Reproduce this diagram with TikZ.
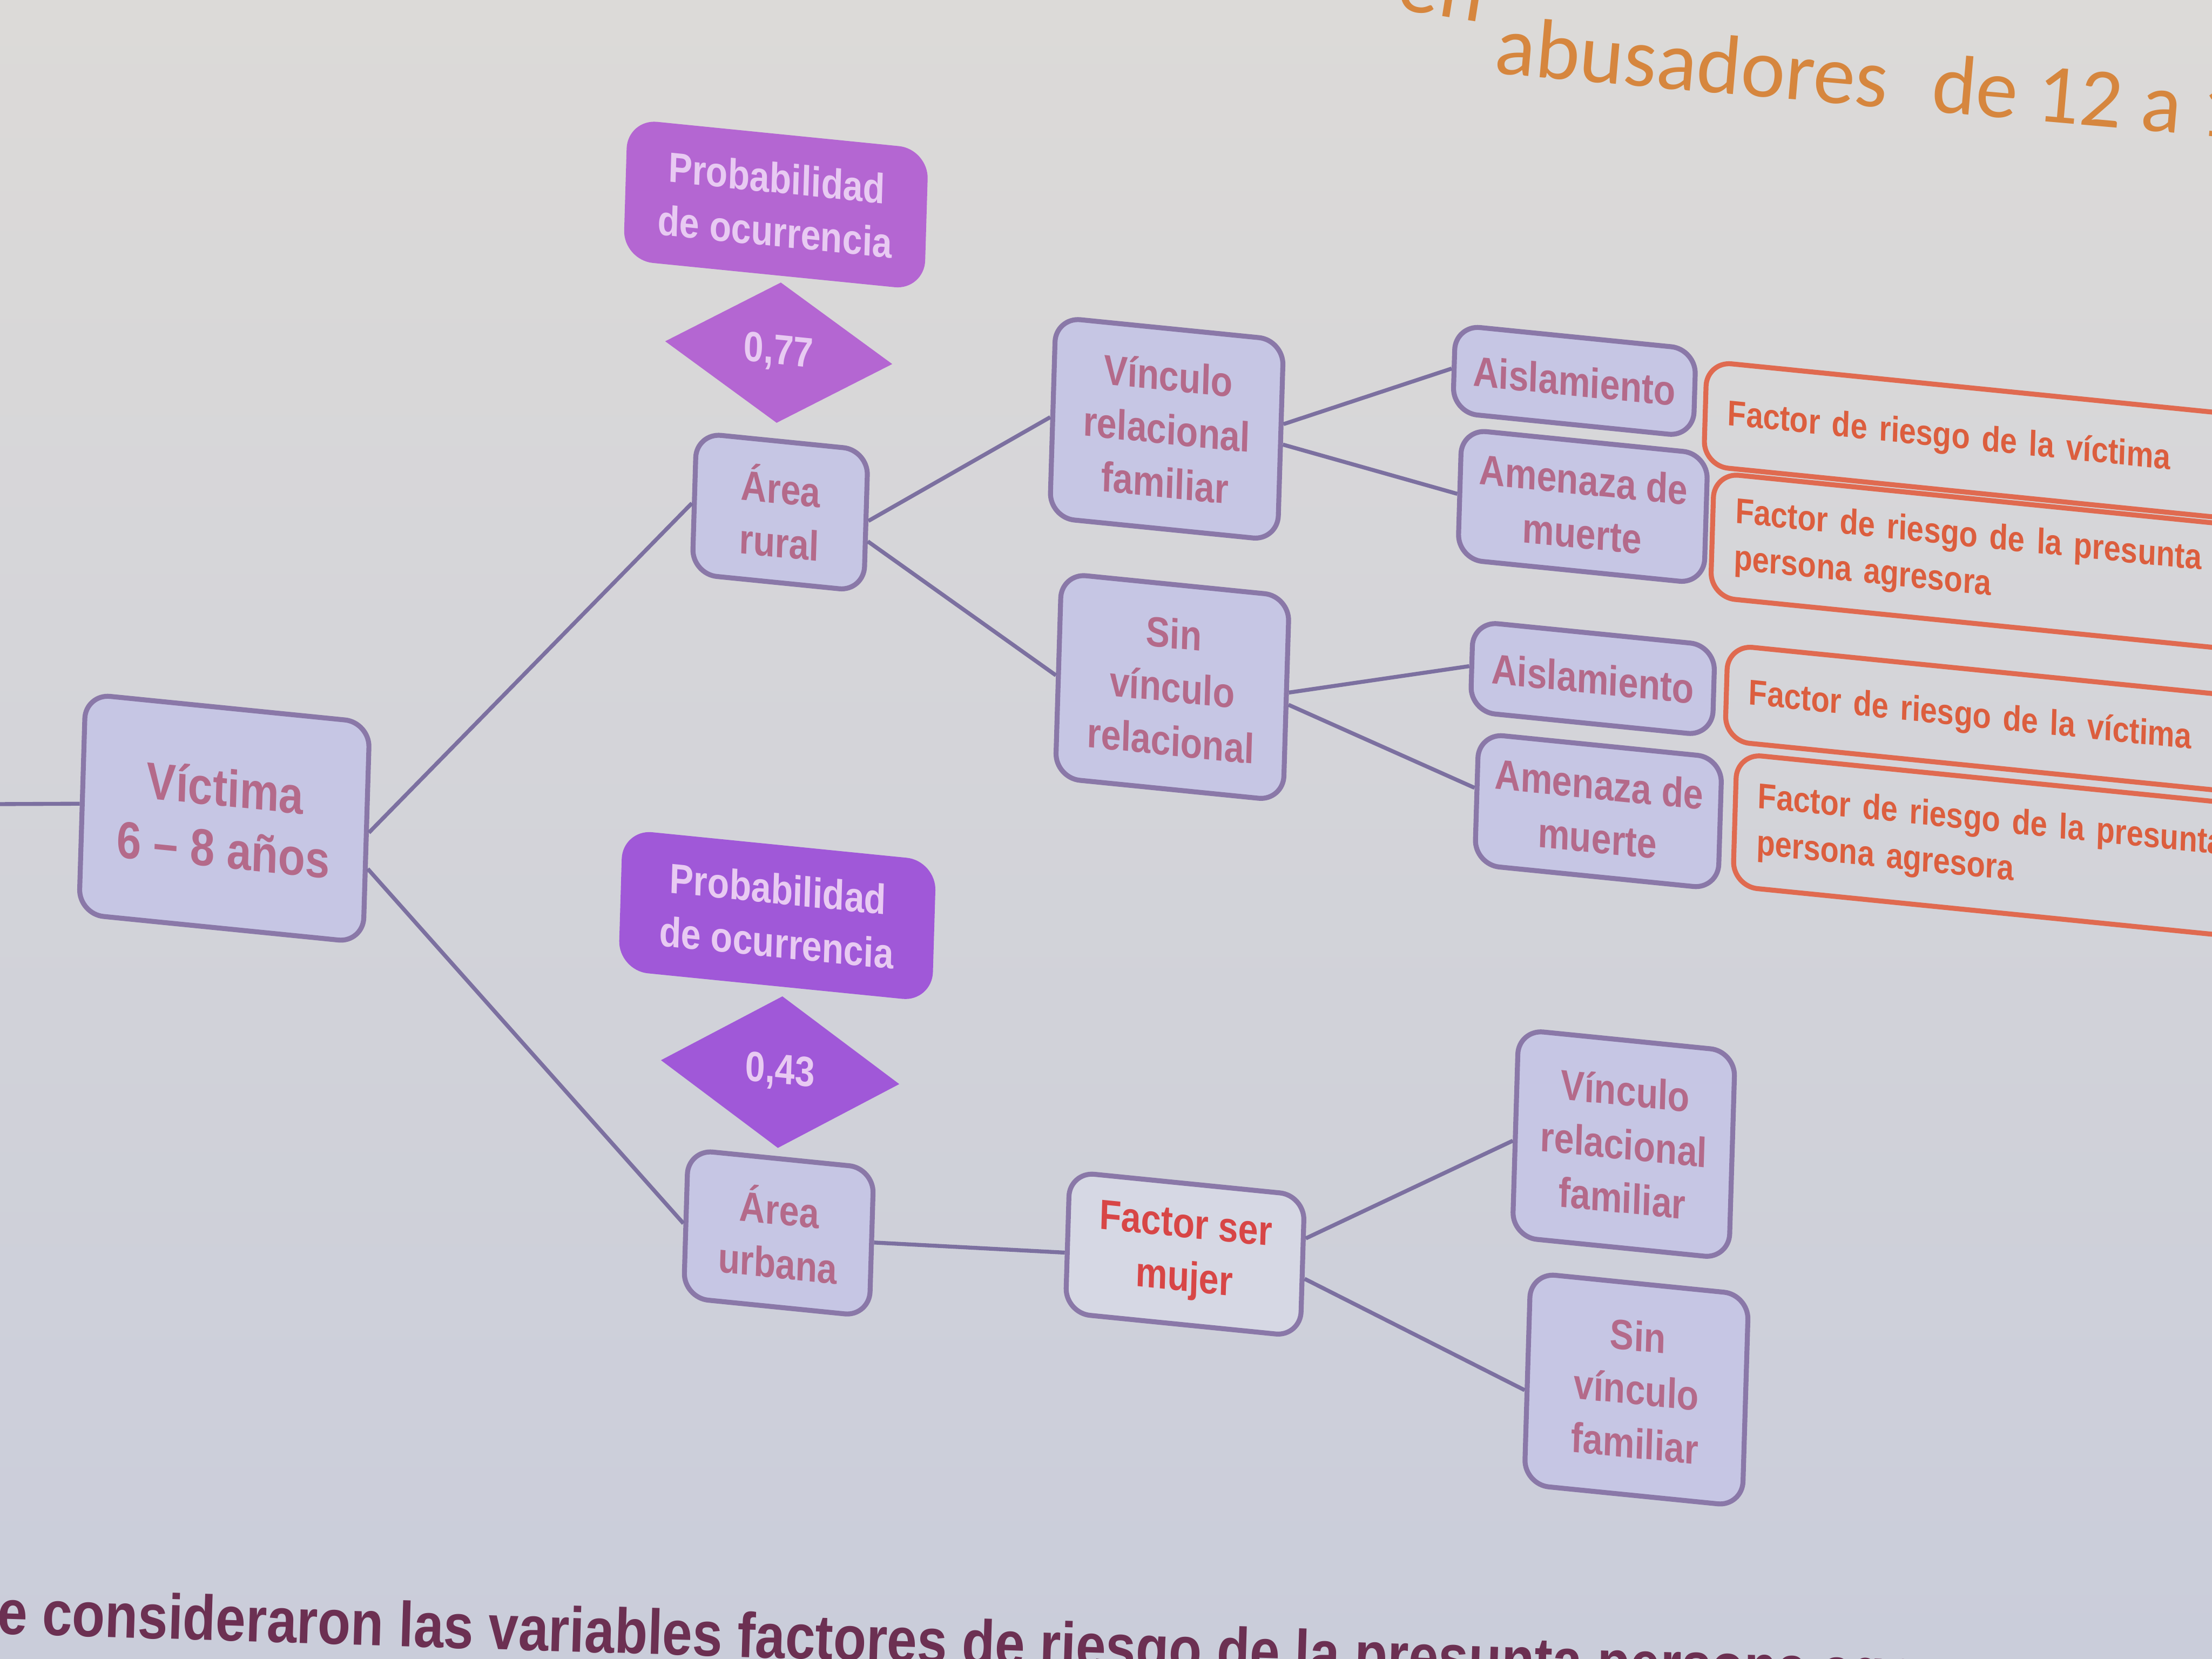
\documentclass[tikz,border=0pt]{standalone}
\usepackage{fontspec}
\setmainfont{Liberation Sans}
\newfontfamily\nf[FakeStretch=0.85]{Liberation Sans}
\newfontfamily\titlefont{Carlito}
\usetikzlibrary{shapes.geometric}
\definecolor{bgtop}{HTML}{DCDAD8}
\definecolor{bgbot}{HTML}{CACDDA}
\definecolor{boxfill}{HTML}{C6C6E4}
\definecolor{boxline}{HTML}{8A78A8}
\definecolor{boxtext}{HTML}{B46A8A}
\definecolor{conncol}{HTML}{7C70A0}
\definecolor{probA}{HTML}{B466D2}
\definecolor{probB}{HTML}{A058D8}
\definecolor{probtext}{HTML}{E8CAF2}
\definecolor{frline}{HTML}{E06A50}
\definecolor{frtext}{HTML}{DC5E3E}
\definecolor{fsmfill}{HTML}{D6D8E4}
\definecolor{fsmtext}{HTML}{D84646}
\definecolor{titlecol}{HTML}{D6863E}
\definecolor{bottomcol}{HTML}{6C3052}
\begin{document}
\begin{tikzpicture}[x=1cm,y=1cm,
  persp/.style={xslant=0.03,yslant=-0.1},
  box/.style={persp, draw=boxline, fill=boxfill, rounded corners=5pt, line width=1pt,
    align=center, text=boxtext, inner sep=1pt,
    font=\nf\bfseries\fontsize{8.5}{10.8}\selectfont},
  probbox/.style={persp, fill=probA, rounded corners=6pt, align=center, text=probtext,
    minimum width=2.14cm, minimum height=1.0cm, inner sep=1pt,
    font=\nf\bfseries\fontsize{8.5}{10.8}\selectfont},
  dia/.style={persp, diamond, fill=probA, text=probtext, minimum width=1.62cm,
    minimum height=1.0cm, inner sep=0pt, aspect=1.6,
    font=\nf\bfseries\fontsize{8.5}{10.8}\selectfont},
  frbox/.style={persp, draw=frline, rounded corners=5pt, line width=1pt, anchor=west,
    align=left, text=frtext, minimum width=4.3cm, text width=4.1cm, inner sep=0pt,
    font=\nf\bfseries\fontsize{7.2}{9.4}\selectfont},
  conn/.style={draw=conncol, line width=0.8pt}
]
\useasboundingbox (0,0) rectangle (15.68,-11.76);
\clip (0,0) rectangle (15.68,-11.76);
\shade[top color=bgtop, bottom color=bgbot] (0,0) rectangle (15.68,-11.76);

% title and bottom text
\node[anchor=base east, rotate=-9, text=titlecol, inner sep=0pt,
  font=\titlefont\fontsize{17}{20}\selectfont] (t0) at (10.50,-0.16) {en};
\node[anchor=base west, rotate=-5, text=titlecol, inner sep=0pt,
  font=\titlefont\fontsize{17}{20}\selectfont] (t1) at (10.58,-0.52)
  {abusadores\hspace{0.3em} de 12 a 1};
\node[anchor=base west, rotate=-1.8, text=bottomcol, inner sep=0pt,
  font=\nf\bfseries\fontsize{12.8}{14}\selectfont] (t2) at (-0.03,-11.58)
  {e consideraron las variables factores de riesgo de la presunta persona agresora};

% rural branch
\node[probbox] (prob1) at (5.50,-1.45) {Probabilidad\\de ocurrencia};
\node[dia] (dia1) at (5.52,-2.50) {0,77};
\node[box, minimum width=1.22cm, minimum height=1.0cm] (rural) at (5.53,-3.63) {Área\\rural};
\node[box, minimum width=2.02cm, minimum height=1.56cm,
  font=\nf\bfseries\fontsize{10.5}{12.4}\selectfont] (vict) at (1.59,-5.80) {Víctima\\6 – 8 años};
\node[box, minimum width=1.62cm, minimum height=1.42cm] (vinc1) at (8.27,-3.04) {Vínculo\\relacional\\familiar};
\node[box, minimum width=1.62cm, minimum height=1.45cm] (sinv) at (8.31,-4.87) {Sin\\vínculo\\relacional};
\node[box, minimum width=1.71cm, minimum height=0.62cm] (ais1) at (11.16,-2.70) {Aislamiento};
\node[box, minimum width=1.75cm, minimum height=0.92cm] (ame1) at (11.22,-3.59) {Amenaza de\\muerte};
\node[box, minimum width=1.72cm, minimum height=0.64cm] (ais2) at (11.29,-4.81) {Aislamiento};
\node[box, minimum width=1.73cm, minimum height=0.93cm] (ame2) at (11.33,-5.75) {Amenaza de\\muerte};

\node[frbox, minimum height=0.74cm] (fr1) at (12.07,-2.93) {\hspace{0.06cm}Factor de riesgo de la víctima};
\node[frbox, minimum height=0.88cm] (fr2) at (12.12,-3.79) {\hspace{0.06cm}Factor de riesgo de la presunta\\\hspace{0.06cm}persona agresora};
\node[frbox, minimum height=0.68cm] (fr3) at (12.22,-4.91) {\hspace{0.06cm}Factor de riesgo de la víctima};
\node[frbox, minimum height=0.94cm] (fr4) at (12.28,-5.81) {\hspace{0.06cm}Factor de riesgo de la presunta\\\hspace{0.06cm}persona agresora};

% urban branch
\node[probbox, fill=probB, minimum width=2.23cm] (prob2) at (5.51,-6.49) {Probabilidad\\de ocurrencia};
\node[dia, fill=probB, minimum width=1.70cm, minimum height=1.08cm] (dia2) at (5.53,-7.60) {0,43};
\node[box, minimum width=1.32cm, minimum height=1.05cm] (urb) at (5.52,-8.74) {Área\\urbana};
\node[box, fill=fsmfill, text=fsmtext, minimum width=1.67cm, minimum height=1.0cm] (fsm) at (8.40,-8.89) {Factor ser\\mujer};
\node[box, minimum width=1.54cm, minimum height=1.47cm] (vinc2) at (11.51,-8.11) {Vínculo\\relacional\\familiar};
\node[box, minimum width=1.55cm, minimum height=1.50cm] (sinf) at (11.60,-9.85) {Sin\\vínculo\\familiar};

% connectors
\coordinate (lft) at (0,-5.70);
\draw[conn] (lft) -- (vict.west);
\draw[conn] (vict.east) -- (rural.west);
\draw[conn] (vict.-14) -- (urb.west);
\draw[conn] (rural.east) -- (vinc1.west);
\draw[conn] (rural.-13) -- (sinv.west);
\draw[conn] (vinc1.8) -- (ais1.west);
\draw[conn] (vinc1.-2) -- (ame1.west);
\draw[conn] (sinv.3) -- (ais2.west);
\draw[conn] (sinv.-3) -- (ame2.175);
\draw[conn] (urb.east) -- (fsm.185);
\draw[conn] (fsm.13) -- (vinc2.184);
\draw[conn] (fsm.-6) -- (sinf.186);
\end{tikzpicture}
\end{document}
